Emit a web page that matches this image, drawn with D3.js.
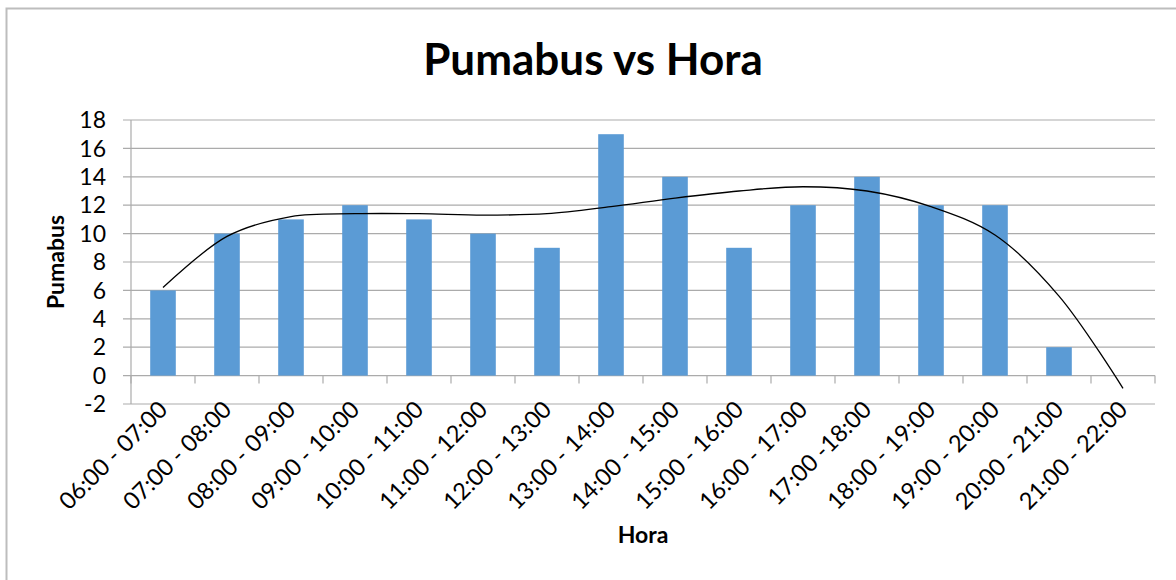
<!DOCTYPE html>
<html>
<head>
<meta charset="utf-8">
<script src="https://cdn.jsdelivr.net/npm/d3@7"></script>
<style>
  body { margin: 0; background: #fff; }
  svg text { font-family: Lato, "Open Sans", sans-serif; fill: #000; }
</style>
</head>
<body>
<div id="chart"></div>
<script>
// data
var horas = ['06:00 - 07:00', '07:00 - 08:00', '08:00 - 09:00', '09:00 - 10:00',
  '10:00 - 11:00', '11:00 - 12:00', '12:00 - 13:00', '13:00 - 14:00',
  '14:00 - 15:00', '15:00 - 16:00', '16:00 - 17:00', '17:00 -18:00',
  '18:00 - 19:00', '19:00 - 20:00', '20:00 - 21:00', '21:00 - 22:00'];
var pumabus = [6, 10, 11, 12, 11, 10, 9, 17, 14, 9, 12, 14, 12, 12, 2, null];
// polynomial trendline as drawn, read at each category centre
var tendencia = [6.2, 9.8, 11.2, 11.4, 11.4, 11.3, 11.4, 11.9, 12.5, 13.0, 13.3, 13.0, 11.9, 9.9, 5.6, -0.9];
var yTicks = [-2, 0, 2, 4, 6, 8, 10, 12, 14, 16, 18];

var width = 1176, height = 580;
var plotLeft = 131, plotRight = 1155, plotTop = 120, plotBottom = 404;

var svg = d3.select('#chart').append('svg')
  .attr('width', width)
  .attr('height', height);

// chart border
svg.append('path')
  .attr('d', 'M6.5,' + height + ' V8.5 H' + width)
  .attr('fill', 'none')
  .attr('stroke', '#bdbdbd')
  .attr('stroke-width', 2);

var x = d3.scaleBand().domain(horas).range([plotLeft, plotRight]).paddingInner(0).paddingOuter(0);
var y = d3.scaleLinear().domain([-2, 18]).range([plotBottom, plotTop]);
var bw = x.bandwidth() / 2.5; // gap width 150%

// gridlines
svg.append('g').selectAll('line')
  .data(yTicks)
  .enter().append('line')
  .attr('x1', plotLeft - 8)
  .attr('x2', plotRight)
  .attr('y1', function(d) { return y(d); })
  .attr('y2', function(d) { return y(d); })
  .attr('stroke', '#ababab')
  .attr('stroke-width', 1.2);

// y axis line
svg.append('line')
  .attr('x1', plotLeft).attr('x2', plotLeft)
  .attr('y1', plotTop).attr('y2', plotBottom)
  .attr('stroke', '#ababab')
  .attr('stroke-width', 1.2);

// y tick labels
svg.append('g').selectAll('text')
  .data(yTicks)
  .enter().append('text')
  .attr('x', 106)
  .attr('y', function(d) { return y(d); })
  .attr('dy', '0.36em')
  .attr('text-anchor', 'end')
  .style('font-size', '23px')
  .text(function(d) { return d; });

// category ticks on the zero line
var bounds = horas.map(function(d) { return x(d); }).concat([plotRight]);
svg.append('g').selectAll('line')
  .data(bounds)
  .enter().append('line')
  .attr('x1', function(d) { return d; })
  .attr('x2', function(d) { return d; })
  .attr('y1', y(0))
  .attr('y2', y(0) + 8)
  .attr('stroke', '#ababab')
  .attr('stroke-width', 1.2);

// bars
svg.append('g').selectAll('rect')
  .data(horas.map(function(h, i) { return {h: h, v: pumabus[i]}; }).filter(function(d) { return d.v !== null; }))
  .enter().append('rect')
  .attr('x', function(d) { return x(d.h) + (x.bandwidth() - bw) / 2; })
  .attr('width', bw)
  .attr('y', function(d) { return y(d.v); })
  .attr('height', function(d) { return y(0) - y(d.v); })
  .attr('fill', '#5b9bd5');

// trendline
var line = d3.line()
  .x(function(d, i) { return x(horas[i]) + x.bandwidth() / 2; })
  .y(function(d) { return y(d); })
  .curve(d3.curveCatmullRom);
svg.append('path')
  .datum(tendencia)
  .attr('d', line)
  .attr('fill', 'none')
  .attr('stroke', '#000')
  .attr('stroke-width', 1.3);

// x labels, rotated
svg.append('g').selectAll('text')
  .data(horas)
  .enter().append('text')
  .attr('transform', function(d) {
    return 'translate(' + (x(d) + x.bandwidth() / 2 + 6) + ',' + 411 + ') rotate(-45)';
  })
  .attr('text-anchor', 'end')
  .style('font-size', '23.5px')
  .text(function(d) { return d; });

// titles
svg.append('text')
  .attr('x', 593).attr('y', 75)
  .attr('text-anchor', 'middle')
  .style('font-size', '44px')
  .style('font-weight', 'bold')
  .text('Pumabus vs Hora');

svg.append('text')
  .attr('x', 643).attr('y', 543)
  .attr('text-anchor', 'middle')
  .style('font-size', '23px')
  .style('font-weight', 'bold')
  .text('Hora');

svg.append('text')
  .attr('transform', 'translate(64,262) rotate(-90)')
  .attr('text-anchor', 'middle')
  .style('font-size', '23px')
  .style('font-weight', 'bold')
  .text('Pumabus');
</script>
</body>
</html>
